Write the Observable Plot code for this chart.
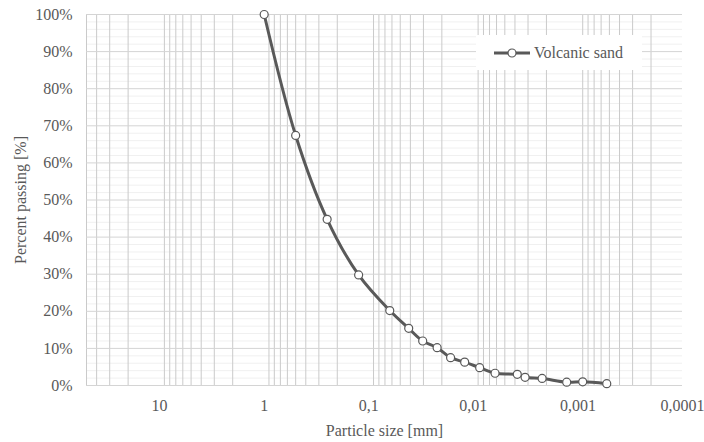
<!DOCTYPE html>
<html>
<head>
<meta charset="utf-8">
<script src="https://cdn.jsdelivr.net/npm/d3@7"></script>
<script src="https://cdn.jsdelivr.net/npm/@observablehq/plot@0.6"></script>
<style>
  html, body { margin: 0; padding: 0; background: #fff; }
  #wrap { position: relative; width: 704px; height: 442px; font-family: "Times New Roman", "Liberation Serif", Tinos, "Noto Serif", "DejaVu Serif", Times, serif; }
  #wrap svg text { font-family: "Times New Roman", "Liberation Serif", Tinos, "Noto Serif", "DejaVu Serif", Times, serif; }
  #legend { position: absolute; left: 476px; top: 35px; width: 166px; height: 35px; background: #fff;
            display: flex; align-items: center; color: #595959; font-size: 16px; }
  #legend svg { display: block; margin-left: 18px; margin-right: 4px; }
</style>
</head>
<body>
<div id="wrap"><div id="chart"></div><div id="legend"></div></div>
<script>
// Particle size [mm] and percent passing [%]
const seriesName = "Volcanic sand";
const sizes   = [1, 0.5, 0.25, 0.125, 0.063, 0.0415, 0.0305, 0.0222, 0.0165, 0.0121, 0.0087, 0.0062, 0.0038, 0.0032, 0.0022, 0.00128, 0.0009, 0.00053];
const passing = [100, 67.4, 44.8, 29.8, 20.2, 15.4, 12.0, 10.2, 7.5, 6.3, 4.8, 3.3, 3.0, 2.2, 1.9, 0.9, 1.0, 0.5];

const xTicks = [10, 1, 0.1, 0.01, 0.001, 0.0001];
const yTicks = [0, 10, 20, 30, 40, 50, 60, 70, 80, 90, 100];
const gridMultipliers = [2, 3, 4, 5, 6, 7, 8, 9];
const gridDecades = [0.0001, 0.001, 0.01, 0.1, 1, 10];
const xDomain = [50, 0.0001];

const data = sizes.map((d, i) => ({size: d, pass: passing[i]}));
const xGrid = gridDecades.flatMap(dec => gridMultipliers.map(m => +(m * dec).toPrecision(3))).filter(v => v <= xDomain[0]);
const yMinor = d3.range(0, 101, 2).filter(v => v % 10 !== 0);

const fmtX = d => String(d).replace(".", ",");

const chart = Plot.plot({
  width: 704,
  height: 442,
  marginLeft: 86,
  marginRight: 22,
  marginTop: 14,
  marginBottom: 57,
  style: {fontFamily: "'Times New Roman', 'Liberation Serif', Tinos, 'Noto Serif', 'DejaVu Serif', Times, serif", fontSize: "16px", color: "#595959", background: "#fff"},
  x: {type: "log", domain: xDomain},
  y: {domain: [0, 100]},
  marks: [
    Plot.gridY(yMinor, {stroke: "#f0f0f0", strokeOpacity: 1}),
    Plot.gridX(xGrid, {stroke: "#cacaca", strokeOpacity: 1}),
    Plot.gridY(yTicks, {stroke: "#d4d4d4", strokeOpacity: 1}),
    Plot.line(data, {x: "size", y: "pass", stroke: "#595959", strokeWidth: 3, curve: "catmull-rom"}),
    Plot.dot(data, {x: "size", y: "pass", r: 4, fill: "#fff", stroke: "#595959", strokeWidth: 1.2}),
    Plot.axisX(xTicks, {tickSize: 0, tickPadding: 14, tickFormat: fmtX, label: "Particle size [mm]", labelAnchor: "center", labelArrow: "none", labelOffset: 50, fill: "#595959"}),
    Plot.axisY(yTicks, {tickSize: 0, tickPadding: 14, tickFormat: d => d + "%", label: "Percent passing [%]", labelAnchor: "center", labelArrow: "none", labelOffset: 72, fill: "#595959"})
  ]
});
document.getElementById("chart").appendChild(chart);

// legend
const lg = document.getElementById("legend");
lg.innerHTML = `<svg width="36" height="14"><line x1="0" y1="7" x2="36" y2="7" stroke="#595959" stroke-width="3"/><circle cx="18" cy="7" r="4" fill="#fff" stroke="#595959" stroke-width="1.2"/></svg><span>${seriesName}</span>`;
</script>
</body>
</html>
